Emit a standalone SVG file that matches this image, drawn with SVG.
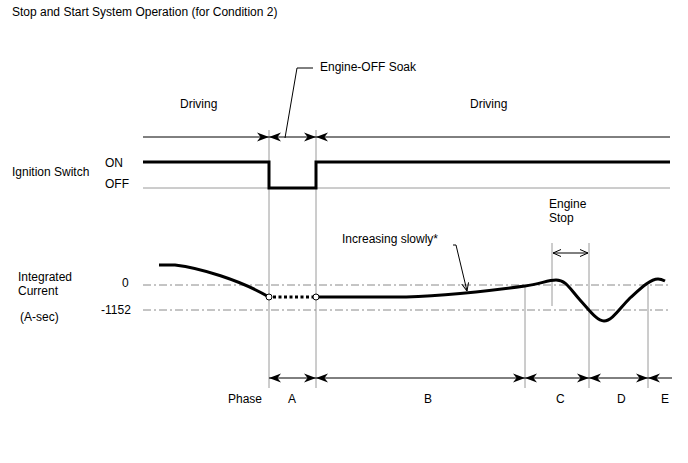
<svg xmlns="http://www.w3.org/2000/svg" width="688" height="463" viewBox="0 0 688 463">
<style>
text{font-family:"Liberation Sans",Arial,sans-serif;font-size:12px;fill:#000}
.g{stroke:#9a9a9a;stroke-width:1;fill:none}
.k{stroke:#000;stroke-width:1;fill:none}
.th{stroke:#000;stroke-width:3;fill:none;stroke-linejoin:miter}
.dd{stroke:#8a8a8a;stroke-width:1;fill:none;stroke-dasharray:8,3,2,3}
</style>
<defs>
<marker id="ah" viewBox="0 0 12 10" refX="12" refY="5" markerWidth="12" markerHeight="10" markerUnits="userSpaceOnUse" orient="auto-start-reverse">
<path d="M0,0.5 L12,5 L0,9.5 L3.5,5 z" fill="#000"/>
</marker>
<marker id="oa" viewBox="0 0 8 8" refX="8" refY="4" markerWidth="8" markerHeight="8" markerUnits="userSpaceOnUse" orient="auto-start-reverse">
<path d="M0,0.5 L8,4 L0,7.5" fill="none" stroke="#000" stroke-width="1"/>
</marker>
</defs>
<rect width="688" height="463" fill="#fff"/>
<text x="12" y="16">Stop and Start System Operation (for Condition 2)</text>
<g id="labels">
<text x="180" y="108">Driving</text>
<text x="470" y="108">Driving</text>
<text x="12" y="176">Ignition Switch</text>
<text x="105" y="167">ON</text>
<text x="105" y="188">OFF</text>
<text x="18" y="281">Integrated</text>
<text x="18" y="295">Current</text>
<text x="20" y="321">(A-sec)</text>
<text x="122" y="287">0</text>
<text x="101" y="314">-1152</text>
<text x="228" y="403">Phase</text>
<text x="288" y="403">A</text>
<text x="424" y="403">B</text>
<text x="556" y="403">C</text>
<text x="617" y="403">D</text>
<text x="661" y="403">E</text>
</g>
<g id="gridlines">
<line class="g" x1="269" y1="130" x2="269" y2="388"/>
<line class="g" x1="316" y1="130" x2="316" y2="388"/>
<line class="g" x1="525" y1="286" x2="525" y2="388"/>
<line class="g" x1="589" y1="243" x2="589" y2="388"/>
<line class="g" x1="648" y1="285" x2="648" y2="388"/>
<line class="g" x1="552" y1="243" x2="552" y2="306"/>
<line class="g" x1="143" y1="188" x2="670" y2="188"/>
<line class="dd" x1="143" y1="285" x2="670" y2="285"/>
<line class="dd" x1="143" y1="310" x2="670" y2="310"/>
</g>
<g id="connectors">
<line class="k" x1="143" y1="137" x2="269" y2="137" marker-end="url(#ah)"/>
<line class="k" x1="269" y1="137" x2="316" y2="137" marker-start="url(#ah)" marker-end="url(#ah)"/>
<line class="k" x1="316" y1="137" x2="670" y2="137" marker-start="url(#ah)"/>
<line class="k" x1="269" y1="378" x2="316" y2="378" marker-start="url(#ah)" marker-end="url(#ah)"/>
<line class="k" x1="316" y1="378" x2="525" y2="378" marker-start="url(#ah)" marker-end="url(#ah)"/>
<line class="k" x1="525" y1="378" x2="589" y2="378" marker-start="url(#ah)" marker-end="url(#ah)"/>
<line class="k" x1="589" y1="378" x2="648" y2="378" marker-start="url(#ah)" marker-end="url(#ah)"/>
<line class="k" x1="648" y1="378" x2="672" y2="378" marker-start="url(#ah)"/>
<line class="k" x1="553" y1="253" x2="588" y2="253" marker-start="url(#oa)" marker-end="url(#oa)"/>
<polyline class="k" points="313,68 297,68 285,138"/>
<polyline class="k" points="453,245 456,245 467,291" marker-end="url(#oa)"/>
</g>
<g id="ignition">
<polyline class="th" points="143,162 269,162 269,188 316,188 316,162 670,162"/>
</g>
<g id="current">
<path class="th" d="M159,265 L175,265 C200,268 240,280 269,297"/>
<line stroke="#000" stroke-width="3" stroke-dasharray="3,2.5" x1="273" y1="297" x2="313" y2="297"/>
<path class="th" d="M319,297 L395,297 C430,297 480,292 525,286 C540,284 548,280 556,280 C566,280 570,289 580,300 C590,311 597,321 604,321 C612,321 620,308 630,298 C640,289 650,279 658,279 C661,279 663,280 665,281"/>
<circle cx="269" cy="297" r="3" fill="#fff" stroke="#000" stroke-width="1"/>
<circle cx="316" cy="297" r="3" fill="#fff" stroke="#000" stroke-width="1"/>
</g>
<g id="annotations">
<text x="320" y="71">Engine-OFF Soak</text>
<text x="342" y="243">Increasing slowly*</text>
<text x="549" y="208">Engine</text>
<text x="549" y="222">Stop</text>
</g>
</svg>
